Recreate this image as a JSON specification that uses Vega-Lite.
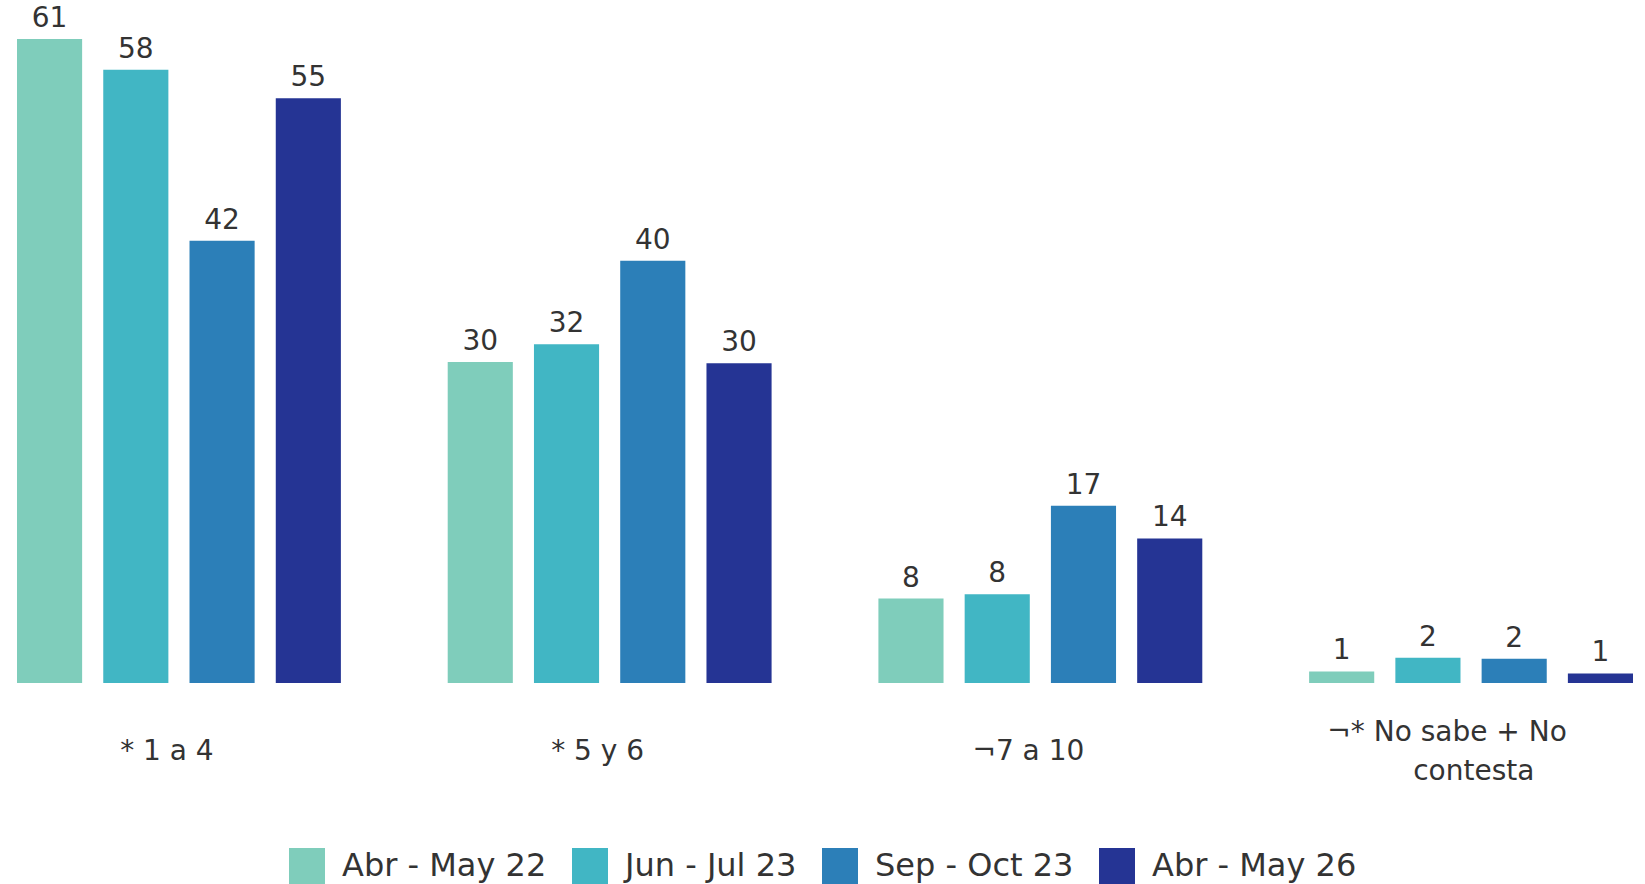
{
  "$schema": "https://vega.github.io/schema/vega-lite/v6.json",
  "width": 1616,
  "height": 683,
  "autosize": "none",
  "padding": {"left": 17, "top": 0, "right": 12, "bottom": 201},
  "background": "white",
  "config": {
    "view": {"stroke": null},
    "font": "DejaVu Sans",
    "text": {"font": "DejaVu Sans"}
  },
  "data": {
    "values": [
      {"cat": "* 1 a 4", "period": "Abr - May 22", "value": 61.0},
      {"cat": "* 1 a 4", "period": "Jun - Jul 23", "value": 58.1},
      {"cat": "* 1 a 4", "period": "Sep - Oct 23", "value": 41.9},
      {"cat": "* 1 a 4", "period": "Abr - May 26", "value": 55.4},
      {"cat": "* 5 y 6", "period": "Abr - May 22", "value": 30.4},
      {"cat": "* 5 y 6", "period": "Jun - Jul 23", "value": 32.1},
      {"cat": "* 5 y 6", "period": "Sep - Oct 23", "value": 40.0},
      {"cat": "* 5 y 6", "period": "Abr - May 26", "value": 30.3},
      {"cat": "¬7 a 10", "period": "Abr - May 22", "value": 8.0},
      {"cat": "¬7 a 10", "period": "Jun - Jul 23", "value": 8.4},
      {"cat": "¬7 a 10", "period": "Sep - Oct 23", "value": 16.8},
      {"cat": "¬7 a 10", "period": "Abr - May 26", "value": 13.7},
      {"cat": "¬* No sabe + No contesta", "period": "Abr - May 22", "value": 1.1},
      {"cat": "¬* No sabe + No contesta", "period": "Jun - Jul 23", "value": 2.4},
      {"cat": "¬* No sabe + No contesta", "period": "Sep - Oct 23", "value": 2.3},
      {"cat": "¬* No sabe + No contesta", "period": "Abr - May 26", "value": 0.9}
    ]
  },
  "encoding": {
    "x": {
      "field": "cat",
      "type": "nominal",
      "sort": null,
      "scale": {"paddingInner": 0.248, "paddingOuter": 0},
      "axis": {
        "title": null,
        "domain": false,
        "ticks": false,
        "labelAngle": 0,
        "labelPadding": {"condition": {"test": "datum.value == '¬* No sabe + No contesta'", "value": 49}, "value": 68},
        "labelOffset": {"condition": {"test": "datum.value == '¬* No sabe + No contesta'", "value": -24}, "value": -12},
        "labelBaseline": "middle",
        "labelFontSize": 28,
        "labelColor": "#333333",
        "labelFont": "DejaVu Sans",
        "labelLineHeight": 39,
        "labelLimit": 400,
        "labelExpr": "datum.value == '¬* No sabe + No contesta' ? ['¬* No sabe + No', '\u200b\u00a0\u00a0\u00a0\u00a0\u00a0\u00a0contesta'] : datum.value"
      }
    },
    "xOffset": {
      "field": "period",
      "type": "nominal",
      "sort": null,
      "scale": {"paddingInner": 0.245, "paddingOuter": 0}
    },
    "y": {
      "field": "value",
      "type": "quantitative",
      "scale": {"domain": [0, 64.7], "nice": false, "zero": true},
      "axis": null
    }
  },
  "layer": [
    {
      "mark": {"type": "bar"},
      "encoding": {
        "color": {
          "field": "period",
          "type": "nominal",
          "sort": null,
          "scale": {
            "domain": ["Abr - May 22", "Jun - Jul 23", "Sep - Oct 23", "Abr - May 26"],
            "range": ["#7fcdbb", "#41b6c4", "#2c7fb8", "#253494"]
          },
          "legend": {
            "title": null,
            "orient": "none",
            "legendX": 272,
            "legendY": 848,
            "direction": "horizontal",
            "symbolType": "square",
            "symbolSize": 1296,
            "symbolStrokeWidth": 0,
            "labelFontSize": 32,
            "labelFont": "DejaVu Sans",
            "labelColor": "#333333",
            "labelOffset": 17,
            "columnPadding": 25,
            "labelLimit": 400
          }
        }
      }
    },
    {
      "mark": {"type": "text", "baseline": "bottom", "dy": -6, "fontSize": 28, "color": "#333333", "font": "DejaVu Sans"},
      "encoding": {
        "text": {"field": "value", "type": "quantitative", "format": ".0f"}
      }
    }
  ]
}
